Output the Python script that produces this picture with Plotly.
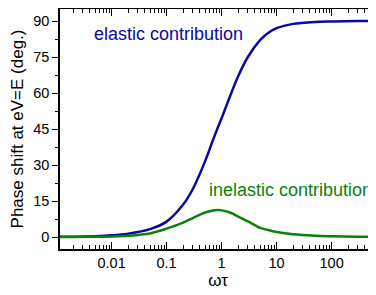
import plotly.graph_objects as go

omega_tau = [0.0011, 0.002, 0.005, 0.01, 0.02, 0.05, 0.1, 0.2, 0.3, 0.5, 0.7, 0.85, 1, 1.5, 2, 3, 5, 7, 10, 20, 50, 100, 300, 700]
elastic = [0.1, 0.15, 0.35, 0.7, 1.4, 3.3, 6.4, 13.5, 20, 31.5, 40.5, 45.5, 49.5, 60, 67, 75, 82, 85, 87, 88.8, 89.6, 89.8, 90, 90]
inelastic = [0.02, 0.05, 0.12, 0.25, 0.55, 1.5, 3.5, 6.0, 7.9, 10.2, 11.0, 11.2, 11.1, 10.0, 8.5, 6.5, 3.8, 2.9, 2.1, 1.1, 0.5, 0.3, 0.1, 0.05]

x_tickvals = [0.01, 0.1, 1, 10, 100]
x_ticktext = ["0.01", "0.1", "1", "10", "100"]
y_tickvals = [0, 15, 30, 45, 60, 75, 90]

BLUE = "#0a0a9c"
GREEN = "#0a820a"
FONT = "Liberation Sans, Arial, sans-serif"

fig = go.Figure()
fig.add_trace(go.Scatter(x=omega_tau, y=elastic, mode="lines",
                         line=dict(color=BLUE, width=2.5, shape="spline", smoothing=0.8)))
fig.add_trace(go.Scatter(x=omega_tau, y=inelastic, mode="lines",
                         line=dict(color=GREEN, width=2.5, shape="spline", smoothing=0.8)))

fig.add_annotation(x=-2.36, y=84.5, xref="x", yref="y", text="elastic contribution",
                   showarrow=False, xanchor="left", yanchor="middle",
                   font=dict(family=FONT, size=18, color=BLUE))
fig.add_annotation(x=-0.266, y=19.7, xref="x", yref="y", text="inelastic contribution",
                   showarrow=False, xanchor="left", yanchor="middle",
                   font=dict(family=FONT, size=18, color=GREEN))

fig.update_layout(
    width=376, height=295,
    margin=dict(l=52, r=8, t=1, b=54),
    plot_bgcolor="white", paper_bgcolor="white",
    showlegend=False,
    font=dict(family=FONT, size=14, color="black"),
    xaxis=dict(type="log", range=[-2.938, 2.807], automargin=False,
               tickvals=x_tickvals, ticktext=x_ticktext,
               ticks="inside", ticklen=7, tickwidth=1.2, tickcolor="black",
               minor=dict(ticks="inside", ticklen=4, tickwidth=1, tickcolor="black", dtick="D1"),
               showline=True, linecolor="black", linewidth=1.5, mirror="ticks",
               showgrid=False, zeroline=False,
               title=dict(text="ωτ", font=dict(family=FONT, size=17), standoff=4),
               tickfont=dict(size=14.5)),
    yaxis=dict(range=[-5, 95], tickvals=y_tickvals, automargin=False,
               ticks="outside", ticklen=6, tickwidth=1.2, tickcolor="black",
               minor=dict(ticks="outside", ticklen=3, tickwidth=1, tickcolor="black", dtick=7.5, tick0=0),
               showline=True, linecolor="black", linewidth=1.5,
               showgrid=False, zeroline=False,
               title=dict(text="Phase shift at eV=E (deg.)", font=dict(family=FONT, size=17), standoff=6),
               tickfont=dict(size=14.5)),
)

fig.write_html("out.html")
